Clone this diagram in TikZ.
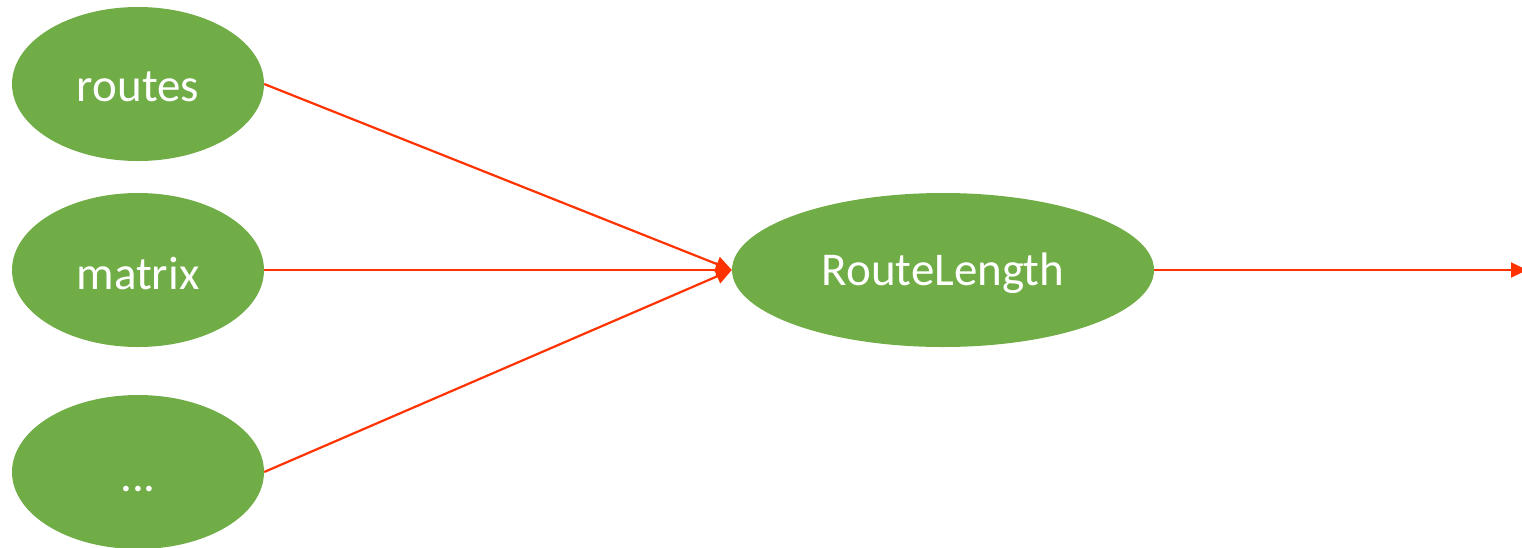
\documentclass[tikz,border=0pt]{standalone}
\usepackage{fontspec}
\setmainfont{Carlito}
\usetikzlibrary{shapes.geometric,arrows.meta}
\definecolor{nodegreen}{HTML}{70AD47}
\definecolor{linkred}{HTML}{FF3300}
% shift the label down while keeping the box size used for centring
\newcommand{\lowered}[1]{\raisebox{-3pt}[\height][\depth]{\vphantom{RL}#1}}
\tikzset{
  blob/.style={ellipse, fill=nodegreen, draw=none, inner sep=0pt,
    text=white, font=\fontsize{47}{56}\selectfont},
  link/.style={draw=linkred, line width=2.2pt,
    -{Triangle[length=16pt,width=15pt]}}
}
\begin{document}
\begin{tikzpicture}[x=1pt,y=-1pt]
  \useasboundingbox (0,0) rectangle (1522,547);
  \node[blob, minimum width=252pt, minimum height=154pt] (routes) at (138,84) {\lowered{routes}};
  \node[blob, minimum width=252pt, minimum height=154pt] (matrix) at (138,270) {\lowered{matrix}};
  \node[blob, minimum width=252pt, minimum height=154pt] (more) at (138,472) {\lowered{\raisebox{-0.15ex}{...}}};
  \node[blob, minimum width=422pt, minimum height=154pt] (len) at (943,270) {\lowered{RouteLength}};
  \coordinate (out) at (1527,270);
  \draw[link] (routes.east) -- (len.west);
  \draw[link] (matrix.east) -- (len.west);
  \draw[link] (more.east) -- (len.west);
  \draw[link] (len.east) -- (out);
\end{tikzpicture}
\end{document}
